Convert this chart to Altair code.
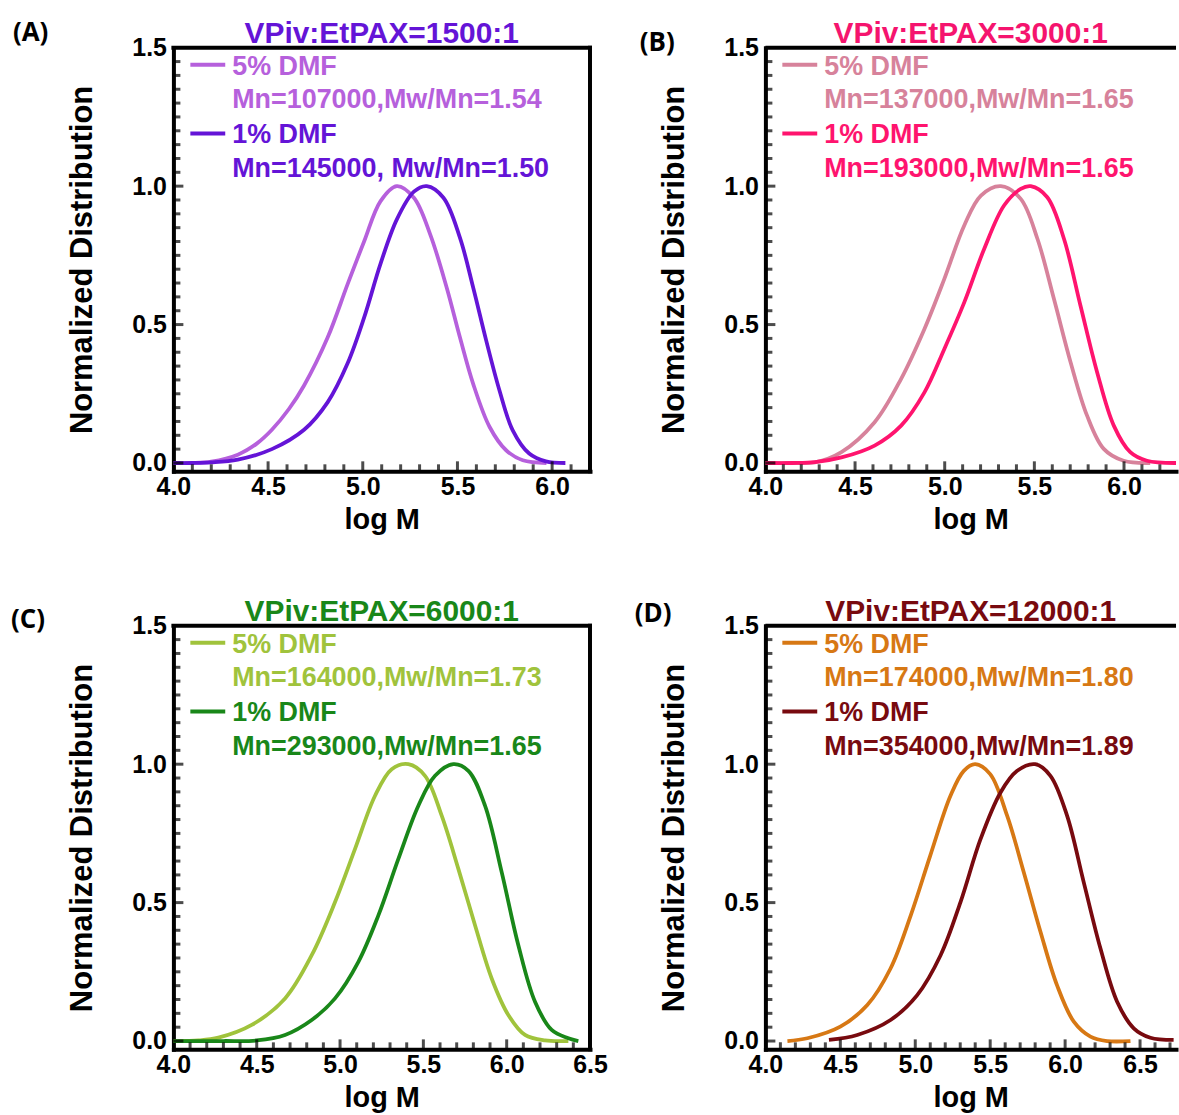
import altair as alt
import pandas as pd

# ---------------- data ----------------
A5_X = [4.00, 4.10, 4.20, 4.34, 4.44, 4.52, 4.61, 4.69, 4.815, 4.92, 5.007, 5.094, 5.18, 5.27, 5.356, 5.443, 5.513, 5.583, 5.67, 5.757, 5.845, 5.97]
A5_Y = [0.000, 0.000, 0.005, 0.030, 0.070, 0.120, 0.195, 0.280, 0.454, 0.646, 0.800, 0.946, 1.000, 0.958, 0.826, 0.634, 0.454, 0.286, 0.130, 0.046, 0.010, 0.000]
A1_X = [4.00, 4.10, 4.20, 4.34, 4.52, 4.69, 4.815, 4.92, 5.007, 5.094, 5.18, 5.27, 5.338, 5.426, 5.513, 5.583, 5.652, 5.722, 5.792, 5.879, 5.967, 6.07]
A1_Y = [0.000, 0.000, 0.002, 0.012, 0.050, 0.120, 0.220, 0.360, 0.525, 0.720, 0.880, 0.980, 1.000, 0.958, 0.814, 0.634, 0.442, 0.262, 0.118, 0.034, 0.006, 0.000]

B5_X = [4.00, 4.15, 4.276, 4.424, 4.609, 4.757, 4.887, 4.998, 5.109, 5.202, 5.313, 5.424, 5.517, 5.609, 5.702, 5.794, 5.887, 5.998, 6.146]
B5_Y = [0.000, 0.000, 0.002, 0.039, 0.147, 0.304, 0.484, 0.665, 0.858, 0.966, 1.000, 0.954, 0.810, 0.593, 0.364, 0.171, 0.051, 0.008, 0.000]
B1_X = [4.00, 4.15, 4.276, 4.424, 4.609, 4.757, 4.887, 4.998, 5.109, 5.22, 5.331, 5.424, 5.48, 5.572, 5.665, 5.757, 5.85, 5.943, 6.035, 6.128, 6.29]
B1_Y = [0.000, 0.000, 0.003, 0.020, 0.063, 0.135, 0.255, 0.412, 0.580, 0.773, 0.930, 0.990, 1.000, 0.960, 0.810, 0.569, 0.328, 0.135, 0.039, 0.008, 0.000]

C5_X = [4.00, 4.15, 4.27, 4.47, 4.67, 4.83, 4.97, 5.09, 5.21, 5.31, 5.41, 5.51, 5.61, 5.71, 5.81, 5.91, 6.01, 6.11, 6.23, 6.37]
C5_Y = [0.000, 0.002, 0.012, 0.058, 0.154, 0.310, 0.502, 0.694, 0.886, 0.982, 1.000, 0.958, 0.814, 0.622, 0.418, 0.226, 0.094, 0.022, 0.002, 0.000]
C1_X = [4.00, 4.30, 4.50, 4.67, 4.83, 4.97, 5.11, 5.23, 5.35, 5.47, 5.57, 5.68, 5.77, 5.87, 5.97, 6.07, 6.17, 6.27, 6.37, 6.43]
C1_Y = [0.000, 0.000, 0.002, 0.022, 0.076, 0.154, 0.286, 0.454, 0.658, 0.850, 0.958, 1.000, 0.976, 0.850, 0.610, 0.346, 0.142, 0.040, 0.010, 0.000]

D5_X = [4.147, 4.28, 4.50, 4.68, 4.835, 4.97, 5.10, 5.235, 5.324, 5.40, 5.50, 5.613, 5.724, 5.836, 5.947, 6.058, 6.169, 6.28, 6.436]
D5_Y = [0.000, 0.010, 0.052, 0.130, 0.262, 0.454, 0.670, 0.886, 0.976, 1.000, 0.964, 0.814, 0.610, 0.394, 0.200, 0.070, 0.016, 0.000, 0.000]
D1_X = [4.424, 4.613, 4.835, 5.013, 5.169, 5.302, 5.436, 5.569, 5.68, 5.80, 5.902, 6.013, 6.124, 6.236, 6.347, 6.458, 6.569, 6.724]
D1_Y = [0.004, 0.022, 0.076, 0.166, 0.310, 0.502, 0.730, 0.898, 0.976, 1.000, 0.958, 0.814, 0.574, 0.334, 0.142, 0.046, 0.012, 0.004]

SERIES_NAMES = ["5% DMF", "1% DMF"]
A_DETAILS = ["Mn=107000,Mw/Mn=1.54", "Mn=145000, Mw/Mn=1.50"]
B_DETAILS = ["Mn=137000,Mw/Mn=1.65", "Mn=193000,Mw/Mn=1.65"]
C_DETAILS = ["Mn=164000,Mw/Mn=1.73", "Mn=293000,Mw/Mn=1.65"]
D_DETAILS = ["Mn=174000,Mw/Mn=1.80", "Mn=354000,Mw/Mn=1.89"]
TITLES = ["VPiv:EtPAX=1500:1", "VPiv:EtPAX=3000:1", "VPiv:EtPAX=6000:1", "VPiv:EtPAX=12000:1"]
LETTERS = ["(A)", "(B)", "(C)", "(D)"]
X_LABELS_AB = [4.0, 4.5, 5.0, 5.5, 6.0]
X_LABELS_CD = [4.0, 4.5, 5.0, 5.5, 6.0, 6.5]
Y_LABELS = [0.0, 0.5, 1.0, 1.5]

# ---------------- style ----------------
FONT = "Liberation Sans"
H = 425
Y_DOMAIN = [-0.03, 1.5]


def minor_steps(lo, hi, step):
    out = []
    k = 1
    while lo + k * step < hi - 1e-6:
        out.append(round(lo + k * step, 4))
        k += 1
    return out


def panel(letter, title, title_color, details, curves, colors, x_domain, width,
          x_labels, right_border, letter_dx, letter_dy):
    W = width
    rows = []
    for name, (xs, ys) in zip(SERIES_NAMES, curves):
        for x, y in zip(xs, ys):
            rows.append({"logM": x, "dist": y, "series": name})
    df = pd.DataFrame(rows)

    xscale = alt.Scale(domain=x_domain, nice=False, zero=False)
    yscale = alt.Scale(domain=Y_DOMAIN, nice=False, zero=False)

    xaxis = alt.Axis(
        title="log M", values=x_labels, format=".1f", labelFlush=False,
        ticks=False, grid=False, domain=True, domainWidth=4, domainColor="black",
        domainCap="square", labelFont=FONT, labelFontSize=25, labelFontWeight="bold",
        labelColor="black", labelPadding=3, titleFont=FONT, titleFontSize=29,
        titleFontWeight="bold", titleColor="black", titlePadding=6,
    )
    yaxis = alt.Axis(
        title="Normalized Distribution", values=Y_LABELS, format=".1f",
        ticks=False, grid=False, domain=True, domainWidth=4, domainColor="black",
        domainCap="square", labelFont=FONT, labelFontSize=25, labelFontWeight="bold",
        labelColor="black", labelPadding=7, titleFont=FONT, titleFontSize=31,
        titleFontWeight="bold", titleColor="black", titlePadding=33,
    )

    layers = []
    for name, col in zip(SERIES_NAMES, colors):
        layers.append(
            alt.Chart(df).transform_filter(alt.datum.series == name)
            .mark_line(strokeWidth=3.8, interpolate="catmull-rom", color=col, clip=True)
            .encode(x=alt.X("logM:Q", scale=xscale, axis=xaxis),
                    y=alt.Y("dist:Q", scale=yscale, axis=yaxis))
        )

    # inward ticks on the bottom frame
    xmin = minor_steps(x_domain[0], x_domain[1], 0.1)
    xmaj = [v for v in xmin if abs(v * 2 - round(v * 2)) < 1e-6]
    xmin = [v for v in xmin if v not in xmaj]
    layers.append(alt.Chart(pd.DataFrame({"logM": xmin})).mark_tick(
        orient="vertical", color="black", thickness=3, size=7, yOffset=-3.5)
        .encode(x="logM:Q", y=alt.value(H)))
    layers.append(alt.Chart(pd.DataFrame({"logM": xmaj})).mark_tick(
        orient="vertical", color="black", thickness=3, size=10, yOffset=-5)
        .encode(x="logM:Q", y=alt.value(H)))

    # inward ticks on the left frame
    ymin = [round(0.05 * k, 3) for k in range(0, 30)]
    ymaj = [v for v in ymin if abs(v * 2 - round(v * 2)) < 1e-6]
    ymin = [v for v in ymin if v not in ymaj]
    layers.append(alt.Chart(pd.DataFrame({"dist": ymin})).mark_tick(
        orient="horizontal", color="black", thickness=3, size=7, xOffset=3.5)
        .encode(y="dist:Q", x=alt.value(0)))
    layers.append(alt.Chart(pd.DataFrame({"dist": ymaj})).mark_tick(
        orient="horizontal", color="black", thickness=3, size=10, xOffset=5)
        .encode(y="dist:Q", x=alt.value(0)))

    one = pd.DataFrame({"t": [title], "letter": [letter]})
    # top frame (and right frame when it is inside the picture)
    layers.append(alt.Chart(one).mark_rule(color="black", strokeWidth=4,
                                           strokeCap="square" if right_border else "butt")
                  .encode(x=alt.value(0), x2=alt.value(W), y=alt.value(0)))
    if right_border:
        layers.append(alt.Chart(one).mark_rule(color="black", strokeWidth=4, strokeCap="square")
                      .encode(x=alt.value(W), y=alt.value(0), y2=alt.value(H)))

    # legend (drawn inside the frame)
    for i, (name, det, col) in enumerate(zip(SERIES_NAMES, details, colors)):
        ldf = pd.DataFrame({"label": [name], "detail": [det]})
        layers.append(alt.Chart(ldf).mark_rule(color=col, strokeWidth=4)
                      .encode(x=alt.value(17), x2=alt.value(52), y=alt.value(17 + 69 * i)))
        layers.append(alt.Chart(ldf).mark_text(align="left", baseline="alphabetic", font=FONT,
                                               fontSize=27, fontWeight="bold", color=col)
                      .encode(text="label:N", x=alt.value(59), y=alt.value(27 + 69 * i)))
        layers.append(alt.Chart(ldf).mark_text(align="left", baseline="alphabetic", font=FONT,
                                               fontSize=27, fontWeight="bold", color=col)
                      .encode(text="detail:N", x=alt.value(59), y=alt.value(60.5 + 69 * i)))

    # panel title and letter
    layers.append(alt.Chart(one).mark_text(align="center", baseline="alphabetic", font=FONT,
                                           fontSize=30, fontWeight="bold", color=title_color)
                  .encode(text="t:N", x=alt.value(W / 2), y=alt.value(-4.5)))
    layers.append(alt.Chart(one).mark_text(align="left", baseline="middle", font="Open Sans",
                                           fontSize=26, fontWeight="bold", color="black")
                  .encode(text="letter:N", x=alt.value(letter_dx), y=alt.value(letter_dy)))

    return alt.layer(*layers).properties(width=W, height=H)


pA = panel(LETTERS[0], TITLES[0], "#6414D7", A_DETAILS, [(A5_X, A5_Y), (A1_X, A1_Y)],
           ["#B660DC", "#6414D7"], [4.0, 6.2], 418, X_LABELS_AB, True, -161, -14.5)
pB = panel(LETTERS[1], TITLES[1], "#F5146E", B_DETAILS, [(B5_X, B5_Y), (B1_X, B1_Y)],
           ["#D7829B", "#FF146E"], [4.0, 6.29], 412, X_LABELS_AB, False, -126, -4.5)
pC = panel(LETTERS[2], TITLES[2], "#198719", C_DETAILS, [(C5_X, C5_Y), (C1_X, C1_Y)],
           ["#A0C33C", "#198719"], [4.0, 6.5], 418, X_LABELS_CD, True, -163, -6)
pD = panel(LETTERS[3], TITLES[3], "#780A0F", D_DETAILS, [(D5_X, D5_Y), (D1_X, D1_Y)],
           ["#D77814", "#780A0F"], [4.0, 6.74], 412, X_LABELS_CD, False, -131, -12)

chart = (
    alt.concat(pA, pB, pC, pD, columns=2, spacing={"row": 155, "column": 176}, bounds="flush")
    .properties(padding={"left": 10, "top": 17, "right": 0, "bottom": 0}, background="white")
    .configure_view(stroke="transparent")
)

chart.save("out.html", embed_options={"renderer": "svg", "actions": False})
